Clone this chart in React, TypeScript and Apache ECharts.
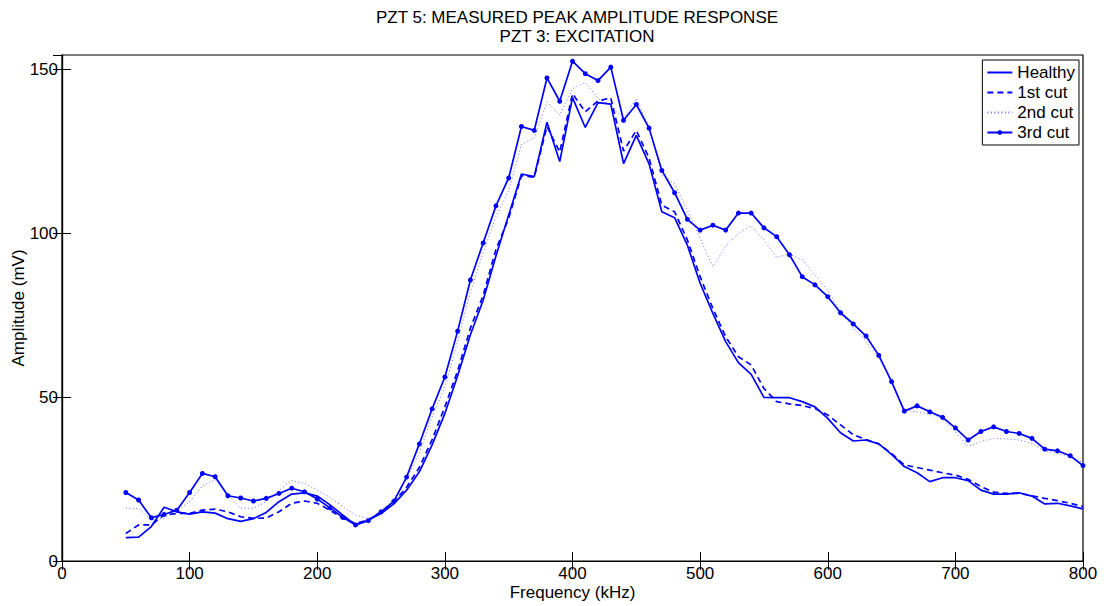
import React, { useEffect, useRef } from "react";
import * as echarts from "echarts";

const frequency = [
  50, 60, 70, 80, 90, 100, 110, 120, 130, 140, 150, 160, 170, 180, 190, 200,
  210, 220, 230, 240, 250, 260, 270, 280, 290, 300, 310, 320, 330, 340, 350,
  360, 370, 380, 390, 400, 410, 420, 430, 440, 450, 460, 470, 480, 490, 500,
  510, 520, 530, 540, 550, 560, 570, 580, 590, 600, 610, 620, 630, 640, 650,
  660, 670, 680, 690, 700, 710, 720, 730, 740, 750, 760, 770, 780, 790, 800,
];

const healthy = [
  7.1, 7.3, 10.5, 16.4, 15, 14.3, 15, 14.6, 12.9, 12.1, 12.9, 14.8, 18.1, 20.4,
  20.8, 19.8, 17.1, 14, 11, 12.5, 14.5, 17.4, 21.6, 27.2, 35.4, 45, 56.5, 69,
  79.5, 93, 105.5, 118, 117.2, 133.8, 121.8, 141.3, 132.2, 139.8, 139.3, 121.2,
  129.8, 121.1, 106.5, 104.7, 96.3, 84.7, 75.5, 66.9, 60.5, 56.9, 49.9, 49.8,
  49.8, 48.6, 47, 43.5, 39.1, 36.6, 36.9, 35.7, 32.5, 28.8, 26.9, 24.2, 25.4,
  25.4, 24.5, 21.6, 20.4, 20.4, 20.8, 19.8, 17.4, 17.6, 16.8, 15.9,
];

const cut1 = [
  8.4, 11, 11, 14, 14.5, 14.5, 15.5, 15.8, 15, 13.5, 13, 13.1, 15, 17.6, 18.3,
  17.6, 15.5, 13, 11.5, 12.5, 15, 18, 22.5, 28.5, 37, 47, 58, 71, 81, 95, 104.5,
  117.5, 117, 132.5, 124.7, 142.5, 137, 140.3, 141.2, 125, 131.3, 122.9, 108.5,
  106.5, 97.9, 86.7, 77, 68.4, 62.3, 59.8, 52.6, 48.6, 47.9, 47.4, 46.5, 44.5,
  41.5, 38.5, 37, 35.7, 32.8, 29.3, 28.5, 27.7, 26.9, 26.2, 24.9, 22.7, 21,
  20.6, 20.6, 19.9, 19.1, 18.4, 17.6, 16.6,
];

const cut2 = [
  16.1, 16, 12.5, 13, 15.5, 18, 22.9, 24.9, 20.1, 16.1, 16.1, 18.1, 21.6, 24.5,
  23.7, 21.6, 19.4, 16.6, 14, 13, 15, 19, 25, 33, 44, 53, 67, 82, 94, 105, 113,
  127, 129, 140, 136, 144, 146, 141, 139, 135, 141, 132.3, 117.6, 115.1, 107,
  98.4, 89.7, 96, 99.9, 102.2, 97.9, 92.6, 93.6, 91.8, 87.2, 82.6, 76, 71, 67,
  62, 55, 46, 45.5, 44.8, 43.2, 39.4, 34.9, 36.4, 37.4, 37.2, 36.9, 35.9, 33.6,
  32.8, 31.8, 30,
];

const cut3 = [
  20.9, 18.6, 13.2, 14.2, 15.5, 20.9, 26.7, 25.7, 19.9, 19.2, 18.3, 19.1, 20.6,
  22.2, 21.1, 18.9, 16.2, 13.3, 11, 12.3, 15, 18.2, 25.6, 35.7, 46.4, 56.1,
  70.1, 85.7, 97, 108.3, 116.8, 132.5, 131.3, 147.3, 140.2, 152.4, 148.6, 146.5,
  150.6, 134.4, 139.2, 132, 119.1, 112.3, 104.2, 100.9, 102.4, 100.9, 106.1,
  106.1, 101.6, 98.9, 93.4, 86.7, 84.2, 80.6, 75.7, 72.3, 68.6, 62.7, 54.7,
  45.7, 47.3, 45.5, 43.8, 40.6, 36.9, 39.5, 40.9, 39.5, 38.9, 37.4, 34.1, 33.6,
  32.1, 29.1,
];

const seriesNames = ["Healthy", "1st cut", "2nd cut", "3rd cut"];
const titleLines = [
  "PZT 5: MEASURED PEAK AMPLITUDE RESPONSE",
  "PZT 3: EXCITATION",
];
const xAxisName = "Frequency (kHz)";
const yAxisName = "Amplitude (mV)";

const FONT = "'Liberation Sans', Arial, Helvetica, sans-serif";
const BLUE = "#0000ff";
const DOT_BLUE = "rgba(60,60,255,0.75)";

const pairs = (ys: number[]) => frequency.map((f, i) => [f, ys[i]]);

export default function App() {
  const ref = useRef<HTMLDivElement>(null);

  useEffect(() => {
    if (!ref.current) return;
    const chart = echarts.init(ref.current, undefined, { renderer: "svg" });

    const tickStyle = {
      show: true,
      inside: true,
      length: 9,
      lineStyle: { color: "#000", width: 1 },
    };
    const axisLine = { show: true, lineStyle: { color: "#000", width: 1.2 } };

    chart.setOption({
      animation: false,
      backgroundColor: "#fff",
      textStyle: { fontFamily: FONT },
      title: {
        text: titleLines.join("\n"),
        left: 572,
        top: 3,
        textAlign: "center",
        textStyle: {
          fontFamily: FONT,
          fontSize: 17,
          fontWeight: "normal",
          color: "#000",
          lineHeight: 19,
        },
      },
      grid: {
        left: 62,
        right: 21,
        top: 55,
        bottom: 45,
        containLabel: false,
        outerBoundsMode: "none",
        show: true,
        borderColor: "#000",
        borderWidth: 1.2,
        backgroundColor: "#fff",
      },
      legend: {
        orient: "vertical",
        right: 25,
        top: 60,
        padding: [4, 4, 4, 4],
        itemGap: 3,
        itemWidth: 25,
        itemHeight: 6,
        backgroundColor: "#fff",
        borderColor: "#000",
        borderWidth: 1,
        borderRadius: 0,
        data: [
          { name: seriesNames[0], itemStyle: { opacity: 0 } },
          { name: seriesNames[1], itemStyle: { opacity: 0 } },
          { name: seriesNames[2], itemStyle: { opacity: 0 } },
          { name: seriesNames[3] },
        ],
        textStyle: {
          fontFamily: FONT,
          fontSize: 17,
          color: "#000",
          lineHeight: 17,
          padding: [0, 0, 0, 0],
        },
      },
      xAxis: [
        {
          type: "value",
          min: 0,
          max: 800,
          interval: 100,
          name: xAxisName,
          nameLocation: "middle",
          nameGap: 23,
          nameMoveOverlap: false,
          nameTextStyle: {
            fontFamily: FONT,
            fontSize: 17,
            color: "#000",
            verticalAlign: "top",
          },
          axisLine,
          axisTick: tickStyle,
          axisLabel: {
            fontFamily: FONT,
            fontSize: 17,
            color: "#000",
            margin: 4,
          },
          splitLine: { show: false },
        },
        {
          type: "value",
          position: "top",
          min: 0,
          max: 800,
          interval: 100,
          axisLine,
          axisTick: tickStyle,
          axisLabel: { show: false },
          splitLine: { show: false },
        },
      ],
      yAxis: [
        {
          type: "value",
          min: 0,
          max: 154.3,
          interval: 50,
          name: yAxisName,
          nameLocation: "middle",
          nameGap: 35,
          nameMoveOverlap: false,
          nameTextStyle: {
            fontFamily: FONT,
            fontSize: 17,
            color: "#000",
          },
          axisLine,
          axisTick: tickStyle,
          axisLabel: {
            fontFamily: FONT,
            fontSize: 17,
            color: "#000",
            margin: 4,
            showMaxLabel: false,
          },
          splitLine: { show: false },
        },
        {
          type: "value",
          position: "right",
          min: 0,
          max: 154.3,
          interval: 50,
          axisLine,
          axisTick: tickStyle,
          axisLabel: { show: false },
          splitLine: { show: false },
        },
      ],
      series: [
        {
          name: seriesNames[0],
          type: "line",
          data: pairs(healthy),
          symbol: "none",
          color: BLUE,
          lineStyle: { color: BLUE, width: 1.7, type: "solid" },
          z: 2,
        },
        {
          name: seriesNames[1],
          type: "line",
          data: pairs(cut1),
          symbol: "none",
          color: BLUE,
          lineStyle: { color: BLUE, width: 1.7, type: [6, 4] },
          z: 3,
        },
        {
          name: seriesNames[2],
          type: "line",
          data: pairs(cut2),
          symbol: "none",
          color: DOT_BLUE,
          lineStyle: { color: DOT_BLUE, width: 1, type: [1, 2.5] },
          z: 4,
        },
        {
          name: seriesNames[3],
          type: "line",
          data: pairs(cut3),
          symbol: "circle",
          symbolSize: 5,
          showSymbol: true,
          color: BLUE,
          itemStyle: { color: BLUE },
          lineStyle: { color: BLUE, width: 1.7, type: "solid" },
          z: 5,
        },
      ],
    });

    return () => chart.dispose();
  }, []);

  return (
    <div
      ref={ref}
      style={{
        position: "fixed",
        left: 0,
        top: 0,
        width: 1104,
        height: 606,
        background: "#fff",
      }}
    />
  );
}
